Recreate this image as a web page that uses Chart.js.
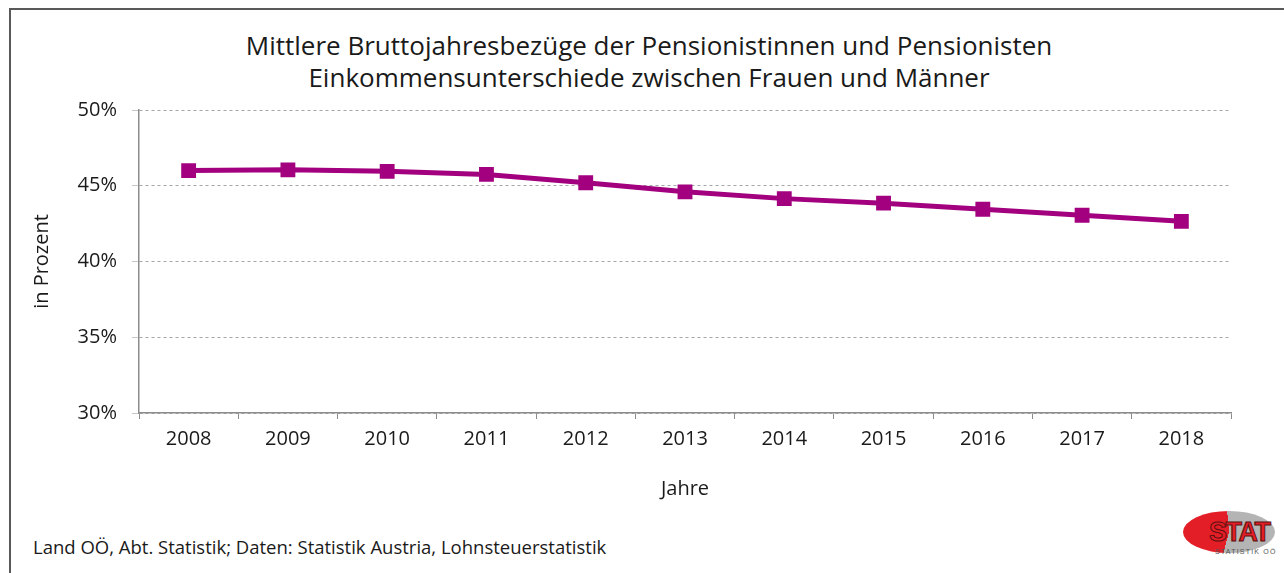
<!DOCTYPE html>
<html>
<head>
<meta charset="utf-8">
<script src="https://cdn.jsdelivr.net/npm/chart.js@4/dist/chart.umd.min.js"></script>
<style>
  html, body { margin: 0; padding: 0; background: #fff; }
  body { width: 1284px; height: 573px; position: relative; overflow: hidden; font-family: "Open Sans", sans-serif; color: #1a1a1a; }
  #frame { position: absolute; left: 9px; top: 8px; width: 1400px; height: 700px; border: 2px solid #595959; box-sizing: border-box; }
  #title { position: absolute; left: 0; top: 29px; width: 1298px; text-align: center; font-size: 26px; line-height: 32px; white-space: nowrap; }
  #source { position: absolute; left: 33px; top: 535px; font-size: 18.5px; line-height: 24px; white-space: nowrap; }
  #logo { position: absolute; left: 1183px; top: 510px; width: 96px; height: 50px; }
  #logo .ell { position: absolute; left: 0; top: 1px; width: 92px; height: 42px; border-radius: 50%;
    background: conic-gradient(from 0deg, #b4b4b4 0deg 195deg, #e41e26 195deg 355deg, #b4b4b4 355deg 360deg); }
  #logo .txt { position: absolute; left: 26px; top: 7px; font: bold 27px "Liberation Sans", sans-serif; color: #e41e26;
    -webkit-text-stroke: 1px #5a1010; letter-spacing: -1.5px; }
  #logo .sub { position: absolute; left: 32px; top: 38px; font: 7px "Liberation Sans", sans-serif; color: #555; letter-spacing: 1.2px; white-space: nowrap; }
  canvas { position: absolute; left: 0; top: 0; }
</style>
</head>
<body>
<div id="frame"></div>
<div id="title">Mittlere Bruttojahresbezüge der Pensionistinnen und Pensionisten<br>Einkommensunterschiede zwischen Frauen und Männer</div>
<div id="source">Land OÖ, Abt. Statistik; Daten: Statistik Austria, Lohnsteuerstatistik</div>
<div id="logo"><div class="ell"></div><div class="txt">STAT</div><div class="sub">STATISTIK OÖ</div></div>
<canvas id="chart" width="1284" height="573"></canvas>
<script>
// Jahre (x axis)
const years = ['2008', '2009', '2010', '2011', '2012', '2013', '2014', '2015', '2016', '2017', '2018'];
// Einkommensunterschied in Prozent
const gapPercent = [46.0, 46.05, 45.95, 45.75, 45.2, 44.6, 44.15, 43.85, 43.45, 43.05, 42.65];
// y axis ticks
const yMin = 30;
const yMax = 50;
const yStep = 5;

const lineColor = '#a2007e';
const gridColor = '#a6a6a6';
const axisColor = '#8c8c8c';
const textColor = '#1a1a1a';
const fontFamily = '"Open Sans", sans-serif';

const ctx = document.getElementById('chart').getContext('2d');
new Chart(ctx, {
  type: 'line',
  data: {
    labels: years,
    datasets: [{
      data: gapPercent,
      borderColor: lineColor,
      backgroundColor: lineColor,
      borderWidth: 5,
      pointStyle: 'rect',
      pointRadius: 10.5,
      pointHoverRadius: 10.5,
      pointBorderWidth: 0,
      tension: 0
    }]
  },
  options: {
    responsive: false,
    animation: false,
    layout: { padding: { top: 110, left: 20, right: 53, bottom: 50 } },
    plugins: {
      legend: { display: false },
      tooltip: { enabled: false }
    },
    scales: {
      x: {
        offset: true,
        afterFit: (scale) => { scale.height = 110; },
        grid: {
          offset: true,
          drawOnChartArea: false,
          drawTicks: true,
          tickLength: 6,
          color: axisColor,
          lineWidth: 1
        },
        border: { color: axisColor, width: 1.5 },
        ticks: {
          color: textColor,
          padding: 8,
          font: { family: fontFamily, size: 20 }
        },
        title: {
          display: true,
          text: 'Jahre',
          color: textColor,
          font: { family: fontFamily, size: 20 },
          padding: { top: 0, bottom: 22 }
        }
      },
      y: {
        min: yMin,
        max: yMax,
        afterFit: (scale) => { scale.width = 119; },
        grid: {
          color: gridColor,
          lineWidth: 1,
          drawTicks: true,
          tickLength: 7,
          tickColor: '#c8c8c8',
          tickBorderDash: []
        },
        border: { color: axisColor, width: 1.5, dash: [3, 3] },
        ticks: {
          stepSize: yStep,
          color: textColor,
          padding: 15,
          font: { family: fontFamily, size: 20 },
          callback: (v) => v + '%'
        },
        title: {
          display: true,
          text: 'in Prozent',
          color: textColor,
          font: { family: fontFamily, size: 20 },
          padding: { top: 10, bottom: 0 }
        }
      }
    }
  }
});
</script>
</body>
</html>
